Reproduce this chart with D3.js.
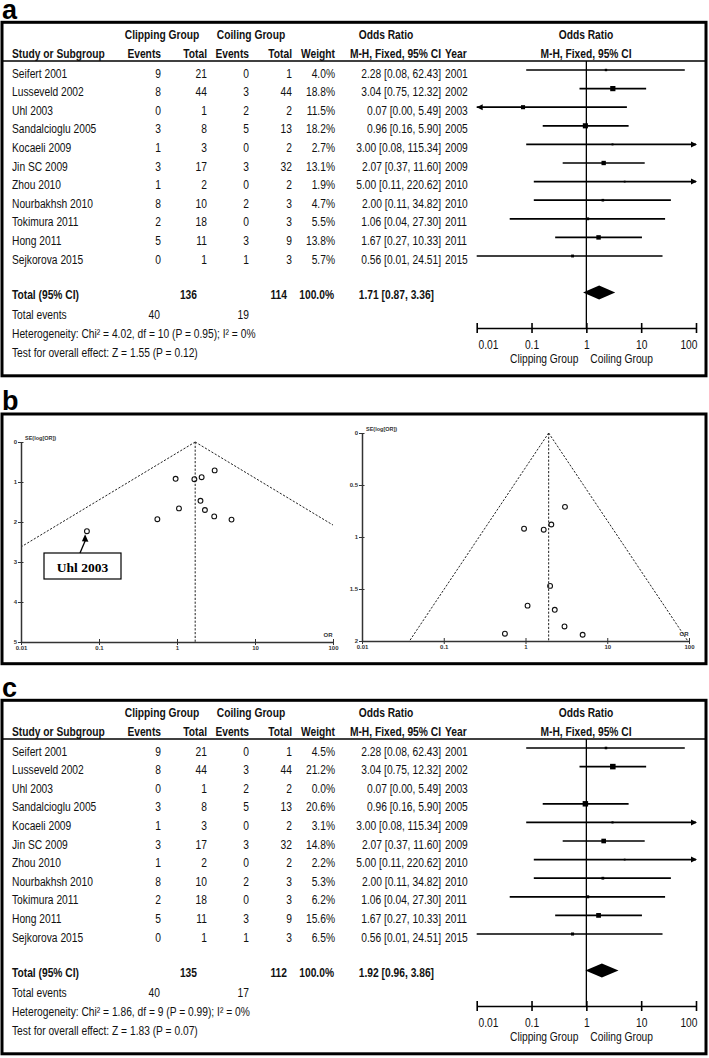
<!DOCTYPE html>
<html>
<head>
<meta charset="utf-8">
<script src="https://cdn.jsdelivr.net/npm/d3@7"></script>
<style>
html,body{margin:0;padding:0;background:#fff;}
svg{display:block;}
</style>
</head>
<body>
<script>
// ---------------- DATA ----------------
const studies = ["Seifert 2001","Lusseveld 2002","Uhl 2003","Sandalcioglu 2005","Kocaeli 2009","Jin SC 2009","Zhou 2010","Nourbakhsh 2010","Tokimura 2011","Hong 2011","Sejkorova 2015"];
const clipEvents = [9,8,0,3,1,3,1,8,2,5,0];
const clipTotal  = [21,44,1,8,3,17,2,10,18,11,1];
const coilEvents = [0,3,2,5,0,3,0,2,0,3,1];
const coilTotal  = [1,44,2,13,2,32,2,3,3,9,3];
const years      = [2001,2002,2003,2005,2009,2009,2010,2010,2011,2011,2015];
const oddsRatio  = [2.28,3.04,0.07,0.96,3.00,2.07,5.00,2.00,1.06,1.67,0.56];
const ciLow      = [0.08,0.75,0.00,0.16,0.08,0.37,0.11,0.11,0.04,0.27,0.01];
const ciHigh     = [62.43,12.32,5.49,5.90,115.34,11.60,220.62,34.82,27.30,10.33,24.51];
const weightsA   = [4.0,18.8,11.5,18.2,2.7,13.1,1.9,4.7,5.5,13.8,5.7];
const weightsC   = [4.5,21.2,0.0,20.6,3.1,14.8,2.2,5.3,6.2,15.6,6.5];
const seLogOR    = [1.70,0.71,2.23,0.92,1.86,0.88,1.94,1.47,1.66,0.93,1.93];

const summaryA = [1.71,0.87,3.36];   // OR, low, high
const summaryC = [1.92,0.96,3.86];
const totalsA  = [136,114];
const totalsC  = [135,112];
const eventsA  = [40,19];
const eventsC  = [40,17];
const hetA     = ["4.02","10","0.95","0"]; // Chi2, df, P, I2
const hetC     = ["1.86","9","0.99","0"];
const testA    = ["1.55","0.12"];
const testC    = ["1.83","0.07"];
const forestTicks = [0.01,0.1,1,10,100];
const funnelYTicksLeft  = [0,1,2,3,4,5];
const funnelYTicksRight = [0,0.5,1,1.5,2];
const excludedStudy = "Uhl 2003";

// ---------------- SETUP ----------------
const FN = "'Liberation Sans',Arial,sans-serif";
const FS = 12.5;
const SX = 0.82;   // horizontal condensing to mimic Arial Narrow
const INK = "#111";
const svg = d3.select("body").append("svg").attr("width",709).attr("height",1058)
  .style("font-family",FN);

function txt(g,x,y,s,anchor,bold,size){
  return g.append("text").attr("transform",`translate(${x},${y}) scale(${SX},1)`).text(s)
    .attr("text-anchor",anchor||"start")
    .attr("font-weight",bold?"bold":"normal")
    .attr("font-size",size||FS)
    .attr("font-family",FN)
    .attr("fill",INK);
}
const f2 = d => d.toFixed(2);

// panel letters
[["a",19],["b",410],["c",697]].forEach(([l,y])=>{
  svg.append("text").attr("x",2).attr("y",y).text(l)
    .attr("font-family","'Liberation Sans',Arial,sans-serif")
    .attr("font-weight","bold").attr("font-size",27).attr("fill","#000");
});

// ---------------- FOREST ----------------
function drawForest(oy, weights, summary, totals, events, het, test){
  const g = svg.append("g").attr("transform",`translate(0,${oy})`);
  g.append("rect").attr("x",2).attr("y",22.3).attr("width",704).attr("height",353.5)
    .attr("fill","none").attr("stroke","#000").attr("stroke-width",3);
  g.append("line").attr("x1",3).attr("x2",705).attr("y1",61).attr("y2",61)
    .attr("stroke","#000").attr("stroke-width",1.6);

  // headers
  txt(g,162,38.5,"Clipping Group","middle",true);
  txt(g,251,38.5,"Coiling Group","middle",true);
  txt(g,386,38.5,"Odds Ratio","middle",true);
  txt(g,586,38.5,"Odds Ratio","middle",true);
  txt(g,12,57.5,"Study or Subgroup","start",true);
  txt(g,161,57.5,"Events","end",true);
  txt(g,207,57.5,"Total","end",true);
  txt(g,249,57.5,"Events","end",true);
  txt(g,292,57.5,"Total","end",true);
  txt(g,335,57.5,"Weight","end",true);
  txt(g,441,57.5,"M-H, Fixed, 95% CI","end",true);
  txt(g,445,57.5,"Year","start",true);
  txt(g,586,57.5,"M-H, Fixed, 95% CI","middle",true);

  const x = d3.scaleLog().domain([0.01,100]).range([476.7,696]);
  const rb = i => 77.5 + i*18.6;
  const axisY = 328;

  // vertical line at OR = 1
  g.append("line").attr("x1",x(1)).attr("x2",x(1)).attr("y1",61).attr("y2",axisY)
    .attr("stroke","#000").attr("stroke-width",1.3);

  studies.forEach((s,i)=>{
    const y = rb(i);
    txt(g,12,y,s);
    txt(g,161,y,clipEvents[i],"end");
    txt(g,207,y,clipTotal[i],"end");
    txt(g,249,y,coilEvents[i],"end");
    txt(g,292,y,coilTotal[i],"end");
    txt(g,335,y,weights[i].toFixed(1)+"%","end");
    txt(g,441,y,`${f2(oddsRatio[i])} [${f2(ciLow[i])}, ${f2(ciHigh[i])}]`,"end");
    txt(g,445,y,years[i]);
    if(weights[i] > 0){
      const ly = y - 7.5;
      const lo = ciLow[i] < 0.01 ? 0.01 : ciLow[i];
      const hi = ciHigh[i] > 100 ? 100 : ciHigh[i];
      g.append("line").attr("x1",x(lo)).attr("x2",x(hi)).attr("y1",ly).attr("y2",ly)
        .attr("stroke","#000").attr("stroke-width",1.7);
      if(ciLow[i] < 0.01){
        const ax = x(0.01);
        g.append("path").attr("d",`M${ax},${ly} L${ax+6},${ly-3} L${ax+6},${ly+3} Z`).attr("fill","#000");
      }
      if(ciHigh[i] > 100){
        const ax = x(100);
        g.append("path").attr("d",`M${ax+1},${ly} L${ax-5},${ly-3} L${ax-5},${ly+3} Z`).attr("fill","#000");
      }
      const sz = Math.max(1.8, 1.2*Math.sqrt(weights[i]));
      g.append("rect").attr("x",x(oddsRatio[i])-sz/2).attr("y",ly-sz/2)
        .attr("width",sz).attr("height",sz).attr("fill","#000");
    }
  });

  // totals
  const tb = 298.5;
  txt(g,12,tb,"Total (95% CI)","start",true);
  txt(g,197,tb,totals[0],"end",true);
  txt(g,287,tb,totals[1],"end",true);
  txt(g,334,tb,"100.0%","end",true);
  txt(g,434,tb,`${f2(summary[0])} [${f2(summary[1])}, ${f2(summary[2])}]`,"end",true);
  const cy = 292.5;
  g.append("path").attr("d",
    `M${x(summary[1])},${cy} L${x(summary[0])},${cy-7} L${x(summary[2])},${cy} L${x(summary[0])},${cy+7} Z`)
    .attr("fill","#000");

  txt(g,12,318.5,"Total events");
  txt(g,160,318.5,events[0],"end");
  txt(g,249,318.5,events[1],"end");
  txt(g,12,337.5,`Heterogeneity: Chi\u00B2 = ${het[0]}, df = ${het[1]} (P = ${het[2]}); I\u00B2 = ${het[3]}%`);
  txt(g,12,357.2,`Test for overall effect: Z = ${test[0]} (P = ${test[1]})`);

  // axis
  const ax = g.append("g").attr("transform",`translate(0,${axisY})`)
    .call(d3.axisBottom(x).tickValues(forestTicks).tickFormat(d=>String(d)).tickSize(5).tickSizeOuter(0));
  ax.select(".domain").attr("stroke","#000").attr("stroke-width",1.6);
  ax.selectAll(".tick line").attr("y1",-5).attr("y2",5).attr("stroke","#000").attr("stroke-width",1.6);
  ax.selectAll(".tick text").attr("y",21.5).attr("dy",0)
    .attr("font-family",FN).attr("font-size",FS).attr("fill",INK)
    .attr("transform",`scale(${SX},1)`)
    .attr("text-anchor",(d,i)=> i===0 ? "start" : (i===forestTicks.length-1 ? "end" : "middle"))
    .attr("x",(d,i)=> (i===0 ? 1.3 : (i===forestTicks.length-1 ? 1 : 0))/SX);
  txt(g,x(1)-8,362.8,"Clipping Group","end");
  txt(g,x(1)+4,362.8,"Coiling Group","start");
}

drawForest(0, weightsA, summaryA, totalsA, eventsA, hetA, testA);
drawForest(678, weightsC, summaryC, totalsC, eventsC, hetC, testC);

// ---------------- FUNNELS ----------------
svg.append("rect").attr("x",2).attr("y",414).attr("width",704).attr("height",249.7)
  .attr("fill","none").attr("stroke","#000").attr("stroke-width",3);

function drawFunnel(xr, yr, yDomMax, yTicks, summaryOR, include){
  const g = svg.append("g");
  const x = d3.scaleLog().domain([0.01,100]).range(xr);
  const y = d3.scaleLinear().domain([0,yDomMax]).range(yr);
  const TF = "'Liberation Sans',Arial,sans-serif";

  // funnel lines (pseudo 95% limits around summary)
  const sL = Math.min(yDomMax, Math.log(summaryOR/0.01)/1.96);
  const sR = Math.min(yDomMax, Math.log(100/summaryOR)/1.96);
  const dash = "2.2,1.6";
  const ln = (x1,y1,x2,y2)=> g.append("line").attr("x1",x1).attr("y1",y1).attr("x2",x2).attr("y2",y2)
      .attr("stroke","#222").attr("stroke-width",1).attr("stroke-dasharray",dash);
  ln(x(summaryOR),y(0),x(summaryOR*Math.exp(-1.96*sL)),y(sL));
  ln(x(summaryOR),y(0),x(summaryOR*Math.exp(1.96*sR)),y(sR));
  ln(x(summaryOR),y(0),x(summaryOR),y(yDomMax));

  // axes
  const xa = g.append("g").attr("transform",`translate(0,${yr[1]})`)
    .call(d3.axisBottom(x).tickValues(forestTicks).tickFormat(d=>String(d)).tickSize(3).tickSizeOuter(0));
  xa.select(".domain").attr("stroke","#333").attr("stroke-width",1.5);
  xa.selectAll(".tick line").attr("y1",-3).attr("y2",3).attr("stroke","#333");
  xa.selectAll(".tick text").attr("y",4).attr("dy","0.71em").attr("font-size",6)
    .attr("font-family",TF).attr("font-weight","bold").attr("fill","#333");
  const ya = g.append("g").attr("transform",`translate(${xr[0]},0)`)
    .call(d3.axisLeft(y).tickValues(yTicks).tickFormat(d=>String(d)).tickSize(3).tickSizeOuter(0));
  ya.select(".domain").attr("stroke","#333").attr("stroke-width",1.5);
  ya.selectAll(".tick line").attr("x1",-3).attr("x2",2.5).attr("stroke","#333");
  ya.selectAll(".tick text").attr("x",-4).attr("font-size",6)
    .attr("font-family",TF).attr("font-weight","bold").attr("fill","#333");
  g.append("text").attr("x",xr[0]+4).attr("y",yr[0]-2.5).text("SE(log[OR])")
    .attr("font-size",5.5).attr("font-family",TF).attr("font-weight","bold").attr("fill","#333");
  g.append("text").attr("x",xr[1]-5).attr("y",yr[1]-5).text("OR").attr("text-anchor","middle")
    .attr("font-size",6).attr("font-family",TF).attr("font-weight","bold").attr("fill","#333");

  // points
  studies.forEach((s,i)=>{
    if(!include(s)) return;
    g.append("circle").attr("cx",x(oddsRatio[i])).attr("cy",y(seLogOR[i])).attr("r",2.4)
      .attr("fill","none").attr("stroke","#111").attr("stroke-width",1.1);
  });
  return {g,x,y};
}

const left = drawFunnel([21,333],[442,642],5,funnelYTicksLeft,summaryA[0],()=>true);
drawFunnel([362,689],[433,641],2,funnelYTicksRight,summaryC[0],s=>s!==excludedStudy);

// Uhl 2003 callout
{
  const i = studies.indexOf(excludedStudy);
  const px = left.x(oddsRatio[i]), py = left.y(seLogOR[i]);
  const g = svg.append("g");
  g.append("rect").attr("x",44).attr("y",553).attr("width",77).attr("height",26)
    .attr("fill","#fff").attr("stroke","#000").attr("stroke-width",1.2);
  g.append("text").attr("x",82.5).attr("y",571.5).text(excludedStudy).attr("text-anchor","middle")
    .attr("font-family","'Liberation Serif','Times New Roman',serif").attr("font-weight","bold")
    .attr("font-size",13.5).attr("fill","#000");
  g.append("line").attr("x1",80).attr("y1",553).attr("x2",px-1.5).attr("y2",py+9)
    .attr("stroke","#000").attr("stroke-width",1.3);
  g.append("path").attr("d",`M${px-1.5-0.3},${py+3} L${px-1.5-3.5},${py+10} L${px-1.5+3},${py+10.5} Z`).attr("fill","#000");
}
</script>
</body>
</html>
